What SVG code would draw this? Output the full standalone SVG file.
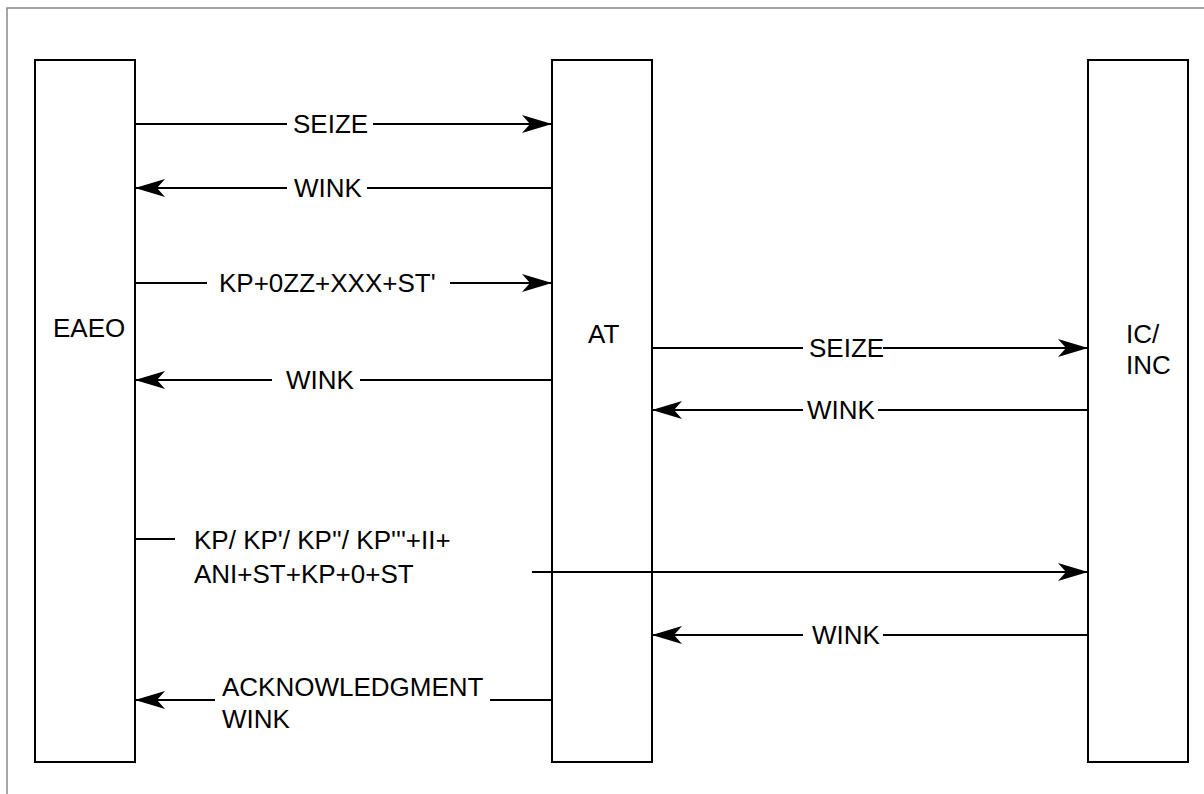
<svg xmlns="http://www.w3.org/2000/svg" width="1204" height="794" viewBox="0 0 1204 794">
<style>
.box{fill:#fff;stroke:#000;stroke-width:2}
.lbl{font-family:"Liberation Sans",Arial,sans-serif;font-size:26px;fill:#000}
.ln{stroke:#000;stroke-width:2;fill:none}
.arr{marker-end:url(#ah)}
.frame{stroke:#888;stroke-width:1.5;fill:none}
</style>
<defs>
<marker id="ah" markerUnits="userSpaceOnUse" markerWidth="32" markerHeight="20" refX="30" refY="10" orient="auto">
<path d="M0,1 L30,10 L0,19 L8,10 Z" fill="#000"/>
</marker>
</defs>
<rect width="1204" height="794" fill="#fff"/>
<path class="frame" d="M7,794 V8 H1204"/>
<g id="EAEO">
<rect class="box" x="35" y="60" width="100" height="702"/>
<text class="lbl" x="53" y="337">EAEO</text>
</g>
<g id="AT">
<rect class="box" x="552" y="60" width="100" height="702"/>
<text class="lbl" x="588" y="343">AT</text>
</g>
<g id="IC_INC">
<rect class="box" x="1088" y="60" width="100" height="702"/>
<text class="lbl" x="1126" y="343">IC/</text>
<text class="lbl" x="1126" y="374">INC</text>
</g>
<g id="connectors">
<line class="ln" x1="135" y1="124" x2="287" y2="124"/>
<line class="ln arr" x1="373" y1="124" x2="552" y2="124"/>
<text class="lbl" x="293" y="133">SEIZE</text>

<line class="ln" x1="552" y1="188" x2="367" y2="188"/>
<line class="ln arr" x1="287" y1="188" x2="135" y2="188"/>
<text class="lbl" x="294" y="197">WINK</text>

<line class="ln" x1="135" y1="283" x2="207" y2="283"/>
<line class="ln arr" x1="450" y1="283" x2="552" y2="283"/>
<text class="lbl" x="219" y="292">KP+0ZZ+XXX+ST'</text>

<line class="ln" x1="552" y1="380" x2="360" y2="380"/>
<line class="ln arr" x1="272" y1="380" x2="135" y2="380"/>
<text class="lbl" x="286" y="389">WINK</text>

<line class="ln" x1="652" y1="348" x2="803" y2="348"/>
<line class="ln arr" x1="883" y1="348" x2="1088" y2="348"/>
<text class="lbl" x="809" y="357">SEIZE</text>

<line class="ln" x1="1088" y1="410" x2="878" y2="410"/>
<line class="ln arr" x1="803" y1="410" x2="652" y2="410"/>
<text class="lbl" x="807" y="419">WINK</text>

<line class="ln" x1="135" y1="539" x2="175" y2="539"/>
<text class="lbl" x="194" y="549">KP/ KP'/ KP''/ KP'''+II+</text>
<text class="lbl" x="194" y="583">ANI+ST+KP+0+ST</text>
<line class="ln arr" x1="532" y1="572" x2="1088" y2="572"/>

<line class="ln" x1="1088" y1="635" x2="883" y2="635"/>
<line class="ln arr" x1="803" y1="635" x2="652" y2="635"/>
<text class="lbl" x="812" y="644">WINK</text>

<line class="ln" x1="552" y1="700" x2="490" y2="700"/>
<line class="ln arr" x1="215" y1="700" x2="135" y2="700"/>
<text class="lbl" x="222" y="696">ACKNOWLEDGMENT</text>
<text class="lbl" x="222" y="728">WINK</text>
</g>
</svg>
